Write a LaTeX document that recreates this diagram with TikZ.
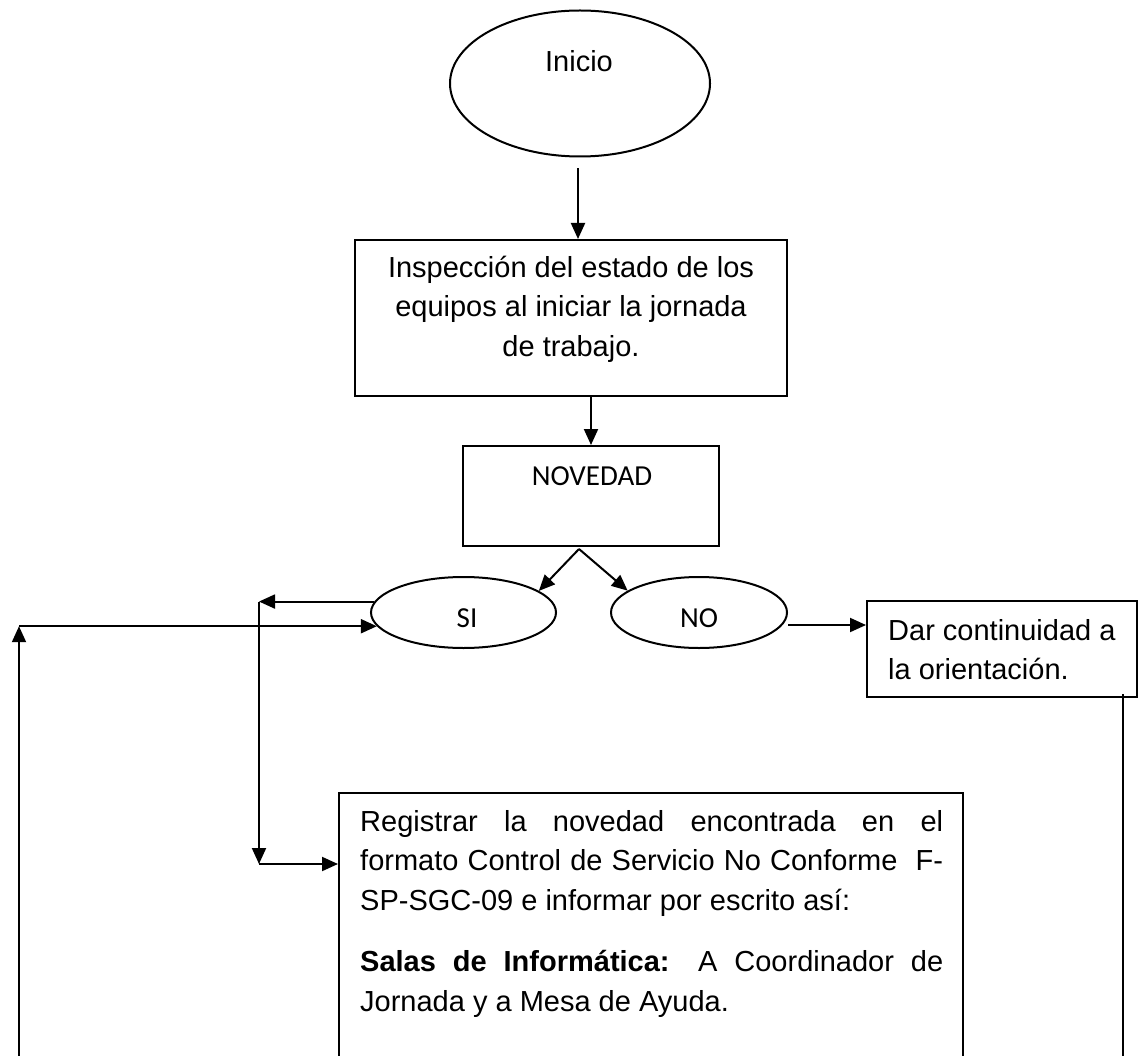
\documentclass[tikz,border=0pt]{standalone}
\usepackage{fontspec}
\setmainfont{Liberation Sans}
\newfontfamily\calib{Carlito}
\usetikzlibrary{shapes.geometric,arrows.meta,calc}
\tikzset{
  ln/.style={line width=2pt},
  arr/.style={ln,-{Triangle[length=16pt,width=14pt]}},
  ell/.style={ellipse,draw,ln,inner sep=0pt},
  box/.style={rectangle,draw,ln,inner sep=0pt},
  txt/.style={inner sep=0pt,font=\fontsize{29pt}{39.5pt}\selectfont},
  ctxt/.style={inner sep=0pt,font=\calib\fontsize{29pt}{34pt}\selectfont},
}
\begin{document}
\begin{tikzpicture}[x=1pt,y=-1pt]
\useasboundingbox (0,0) rectangle (1139,1056);
\clip (0,0) rectangle (1139,1056);
\fill[white] (0,0) rectangle (1139,1056);

% nodes
\node[ell,minimum width=260pt,minimum height=146pt] (inicio) at (580,83.5) {};
\node[txt,anchor=base] at (579,72) {Inicio};

\node[box,minimum width=432pt,minimum height=156pt] (insp) at (571,318) {};
\node[txt,anchor=base] at (571,277) {\parbox[t]{432pt}{\centering Inspección del estado de los\\equipos al iniciar la jornada\\de trabajo.}};

\node[box,minimum width=256pt,minimum height=100pt] (nov) at (591,496) {};
\node[ctxt,anchor=base] at (592,485) {NOVEDAD};

\node[ell,minimum width=185pt,minimum height=71pt] (si) at (463.5,612.5) {};
\node[ctxt,anchor=base] at (467,627) {SI};

\node[ell,minimum width=176pt,minimum height=71pt] (no) at (699,612.5) {};
\node[ctxt,anchor=base] at (699,627) {NO};

\node[box,minimum width=270pt,minimum height=96pt] (dar) at (1002,649) {};
\node[txt,anchor=base west] at (888,640) {\parbox[t]{240pt}{\raggedright Dar continuidad a\\la orientación.}};

\node[box,minimum width=624pt,minimum height=330pt] (reg) at (651,958) {};
\node[txt,anchor=base west] at (360,831) {\parbox[t]{583pt}{%
\makebox[583pt][s]{Registrar la novedad encontrada en el}\\
\makebox[583pt][s]{formato Control de Servicio No Conforme\ \ F-}\\
SP-SGC-09 e informar por escrito así:\par\vspace{22pt}
\makebox[583pt][s]{\textbf{Salas de Informática:} A Coordinador de}\\
Jornada y a Mesa de Ayuda.}};

% connectors
\coordinate (a1) at ($(inicio.south)+(-2,11)$);
\draw[arr] (a1) -- (a1 |- insp.north);
\draw[arr] (nov.north |- insp.south) -- (nov.north);
\coordinate (apex) at (579,549);
\draw[arr] (apex) -- (si.16);
\draw[arr] (apex) -- (no.163);
\coordinate (darin) at ($(dar.west)+(0,-24)$);
\draw[arr] (no.east |- darin) -- (darin);
\coordinate (rb) at (1123,1060);
\draw[ln] ($(dar.south -| rb)+(0,-4)$) -- (rb);
\coordinate (lb) at (19,1060);
\draw[arr] (lb) -- (lb |- si.189);
\draw[arr] (lb |- si.189) -- (si.189);
\coordinate (lx) at (259,700);
\coordinate (regin) at ($(reg.north west)+(0,72)$);
\draw[arr] (si.173) -- (si.173 -| lx);
\draw[arr] (si.173 -| lx) -- (lx |- regin);
\draw[arr] (lx |- regin) -- (regin);
\end{tikzpicture}
\end{document}
